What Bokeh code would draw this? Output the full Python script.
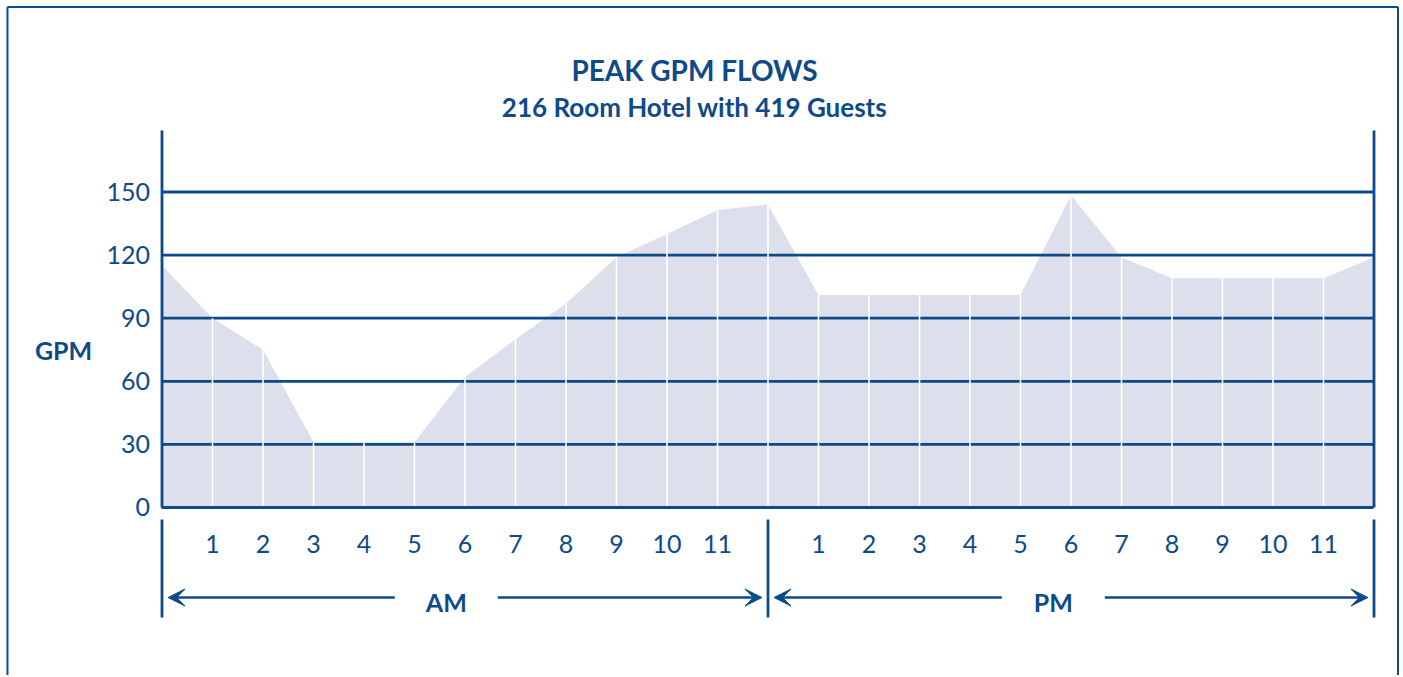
from bokeh.plotting import figure
from bokeh.models import Range1d, FixedTicker, LinearAxis, Arrow, VeeHead
from bokeh.core.properties import value
from bokeh.embed import file_html
from bokeh.resources import INLINE

# ---------------- data ----------------
# hour of day: 0 = midnight, 12 = noon, 24 = midnight
hours = list(range(25))
gpm = [115, 90, 75, 31, 31, 31, 62, 80, 97, 119, 130, 141.5, 144,
       101, 101, 101, 101, 101, 148.5, 119, 109, 109, 109, 109, 119]
am_hours = list(range(1, 12))
pm_hours = list(range(13, 24))
hour_labels = [str(h) for h in range(1, 12)]
y_ticks = [0, 30, 60, 90, 120, 150]
grid_ticks = [30, 60, 90, 120, 150]
periods = ["AM", "PM"]
title_text = "PEAK GPM FLOWS"
subtitle_text = "216 Room Hotel with 419 Guests"
y_label = "GPM"

# ---------------- style ----------------
BLUE = "#0c4a8a"
FILL = "#dde0ec"
FONT = "Lato"

W, H = 1400, 675
p = figure(width=W, height=H,
           x_range=Range1d(-3.198, 24.5248), y_range=Range1d(-79.875, 241.05),
           output_backend="svg", toolbar_location=None,
           x_axis_location=None, y_axis_location=None,
           min_border=0, min_border_left=0, min_border_right=0,
           min_border_top=0, min_border_bottom=0)
p.outline_line_color = None
p.background_fill_color = "white"
p.border_fill_color = "white"
p.xgrid.visible = False
p.ygrid.visible = False

x_first, x_noon, x_last = hours[0], hours[12], hours[-1]
chart_top = 179.24

# area
p.varea(x=hours, y1=[0] * len(hours), y2=gpm, fill_color=FILL)

# horizontal grid lines (above the area)
p.segment(x0=[x_first] * len(grid_ticks), y0=grid_ticks,
          x1=[x_last] * len(grid_ticks), y1=grid_ticks,
          line_color=BLUE, line_width=2.8)

# white hour lines inside the area
inner = hours[1:-1]
p.segment(x0=inner, y0=[0] * len(inner), x1=inner, y1=gpm[1:-1],
          line_color="white", line_width=1.6)

# y axis (placed at x = 0)
yaxis = LinearAxis(fixed_location=x_first, ticker=FixedTicker(ticks=y_ticks),
                   axis_line_color=None, major_tick_line_color=None,
                   minor_tick_line_color=None, major_label_standoff=6,
                   major_label_text_font=FONT, major_label_text_font_size="25px",
                   major_label_text_color=BLUE)
p.add_layout(yaxis, "left")

# x axis (placed at y = 0)
overrides = {h: lab for h, lab in zip(am_hours, hour_labels)}
overrides.update({h: lab for h, lab in zip(pm_hours, hour_labels)})
xaxis = LinearAxis(fixed_location=0, bounds=(x_first, x_last),
                   ticker=FixedTicker(ticks=am_hours + pm_hours),
                   major_label_overrides=overrides,
                   axis_line_color=BLUE, axis_line_width=3,
                   major_tick_line_color=None, minor_tick_line_color=None,
                   major_label_standoff=22,
                   major_label_text_font=FONT, major_label_text_font_size="25px",
                   major_label_text_color=BLUE)
p.add_layout(xaxis, "below")

# chart verticals and AM/PM brackets
p.segment(x0=[x_first, x_last], y0=[0, 0], x1=[x_first, x_last],
          y1=[chart_top, chart_top], line_color=BLUE, line_width=2.8)
p.segment(x0=[x_first, x_noon, x_last], y0=[-5.7] * 3,
          x1=[x_first, x_noon, x_last], y1=[-52.3] * 3,
          line_color=BLUE, line_width=2.8)

# AM / PM labels with arrows
centers = [5.63, 17.65]
arrow_y = -42.8
p.text(x=centers, y=[-45.1, -45.1], text=periods, text_align="center",
       text_baseline="alphabetic", text_color=BLUE, text_font=value(FONT),
       text_font_style="bold", text_font_size="25px")
gap = 1.02
pad = 0.12
spans = [(centers[0] - gap, x_first + pad), (centers[0] + gap, x_noon - pad),
         (centers[1] - gap, x_noon + pad), (centers[1] + gap, x_last - pad)]
for xs, xe in spans:
    p.add_layout(Arrow(end=VeeHead(size=17, fill_color=BLUE, line_color=BLUE),
                       x_start=xs, y_start=arrow_y, x_end=xe, y_end=arrow_y,
                       line_color=BLUE, line_width=2.6))

# titles and axis label
p.text(x=[10.545], y=[207.8], text=[title_text],
       text_align="center", text_baseline="alphabetic", text_color=BLUE,
       text_font=value(FONT), text_font_style="bold", text_font_size="28px")
p.text(x=[10.545], y=[190.4], text=[subtitle_text],
       text_align="center", text_baseline="alphabetic", text_color=BLUE,
       text_font=value(FONT), text_font_style="bold", text_font_size="26px")
p.text(x=[-1.95], y=[75.1], text=[y_label], text_align="center",
       text_baseline="alphabetic", text_color=BLUE, text_font=value(FONT),
       text_font_style="bold", text_font_size="25px")

# outer panel border (left, top, right)
bx0, bx1, by_top, by_bot = -3.06, 24.475, 237.96, p.y_range.start
p.segment(x0=[bx0, bx0, bx1], y0=[by_bot, by_top, by_top],
          x1=[bx0, bx1, bx1], y1=[by_top, by_top, by_bot],
          line_color=BLUE, line_width=2)

open("out.html", "w").write(file_html(p, INLINE))
